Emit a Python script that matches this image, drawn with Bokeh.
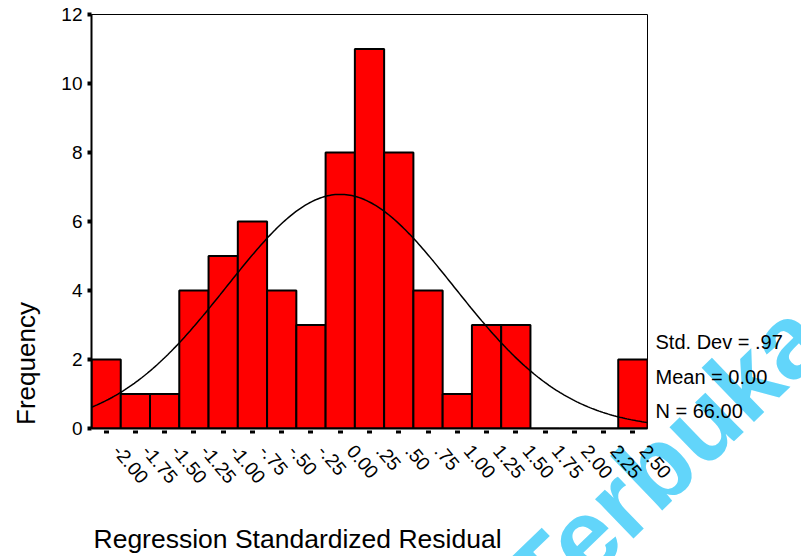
import math
import numpy as np
from bokeh.plotting import figure
from bokeh.models import FixedTicker, LinearAxis, Range1d
from bokeh.core.properties import value
from bokeh.embed import file_html
from bokeh.resources import INLINE

# ---- data ----
bin_centers = [-2.00, -1.75, -1.50, -1.25, -1.00, -0.75, -0.50, -0.25, 0.00, 0.25,
               0.50, 0.75, 1.00, 1.25, 1.50, 1.75, 2.00, 2.25, 2.50]
frequencies = [2, 1, 1, 4, 5, 6, 4, 3, 8, 11, 8, 4, 1, 3, 3, 0, 0, 0, 2]
x_tick_labels = ["-2.00", "-1.75", "-1.50", "-1.25", "-1.00", "-.75", "-.50", "-.25",
                 "0.00", ".25", ".50", ".75", "1.00", "1.25", "1.50", "1.75", "2.00",
                 "2.25", "2.50"]
y_ticks = [0, 2, 4, 6, 8, 10, 12]
bin_width = 0.25
std_dev = 0.97
mean = 0.00
n_obs = 66
stats_lines = ["Std. Dev = .97", "Mean = 0.00", "N = 66.00"]
x_title = "Regression Standardized Residual"
y_title = "Frequency"
watermark = "Terbuka"

FONT = "Liberation Sans"
W, H = 801, 556

# ---------------- background layer: page texts and watermark ----------------
bg = figure(width=W, height=H, output_backend="svg", toolbar_location=None,
            x_range=Range1d(0, W), y_range=Range1d(H, 0), min_border=0)
bg.axis.visible = False
bg.grid.visible = False
bg.outline_line_color = None
bg.background_fill_color = "white"
bg.border_fill_color = "white"

bg.text(x=[521], y=[596], text=[watermark], angle=math.radians(44),
        text_align="left", text_baseline="middle",
        text_font=value(FONT), text_font_size="104px", text_font_style="bold",
        text_color="#62d5fa")
bg.text(x=[25], y=[363], text=[y_title], angle=math.pi / 2,
        text_align="center", text_baseline="middle",
        text_font=value(FONT), text_font_size="26px", text_color="black")
bg.text(x=[93], y=[538], text=[x_title],
        text_align="left", text_baseline="middle",
        text_font=value(FONT), text_font_size="26.5px", text_color="black")
bg.text(x=[655, 655, 655], y=[341, 376, 410], text=stats_lines,
        text_align="left", text_baseline="middle",
        text_font=value(FONT), text_font_size="20px", text_color="black")

# ---------------- main chart (overlaid on the background layer) ----------------
x_lo = bin_centers[0] - bin_width / 2
x_hi = bin_centers[-1] + bin_width / 2

p = figure(width=W, height=H, output_backend="svg", toolbar_location=None,
           x_range=Range1d(x_lo, x_hi), y_range=Range1d(0, 12),
           min_border_left=91, min_border_right=154, min_border_top=14,
           min_border_bottom=128)
p.margin = (-H, 0, 0, 0)
p.grid.visible = False
p.outline_line_color = "black"
p.outline_line_width = 1
p.background_fill_color = None
p.border_fill_color = None

lefts = [c - bin_width / 2 for c in bin_centers]
rights = [c + bin_width / 2 for c in bin_centers]
p.quad(left=lefts, right=rights, bottom=0, top=frequencies,
       fill_color="#ff0000", line_color="black", line_width=2)

# fitted normal curve from the stated mean, std. dev and N
xs = np.linspace(x_lo, x_hi, 300)
ys = n_obs * bin_width / (std_dev * math.sqrt(2 * math.pi)) * np.exp(-0.5 * ((xs - mean) / std_dev) ** 2)
p.line(xs, ys, line_color="black", line_width=1.5)

# y axis
ya = p.yaxis[0]
ya.ticker = FixedTicker(ticks=y_ticks)
ya.axis_line_width = 2
ya.major_tick_in = 0
ya.major_tick_out = 4
ya.major_tick_line_width = 4
ya.minor_tick_line_color = None
ya.major_label_standoff = 5
ya.major_label_text_font = FONT
ya.major_label_text_font_size = "19px"
ya.major_label_text_color = "black"

# x axis: line + dash ticks only
xa = p.xaxis[0]
xa.ticker = FixedTicker(ticks=bin_centers)
xa.axis_line_width = 2
xa.major_tick_in = 0
xa.major_tick_out = 5
xa.major_tick_line_width = 5
xa.major_tick_line_dash = "3 10"
xa.minor_tick_line_color = None
xa.major_label_standoff = 0
xa.major_label_text_font_size = "1px"
xa.major_label_text_alpha = 0

# second x axis carrying the rotated tick labels (slightly offset like the reference)
shift = 0.09
p.extra_x_ranges = {"lab": Range1d(x_lo - shift, x_hi - shift)}
la = LinearAxis(x_range_name="lab", ticker=FixedTicker(ticks=bin_centers))
la.major_label_overrides = {c: l for c, l in zip(bin_centers, x_tick_labels)}
la.major_label_orientation = -0.87
la.axis_line_color = None
la.major_tick_line_color = None
la.minor_tick_line_color = None
la.major_tick_out = 0
la.major_tick_in = 0
la.major_label_standoff = 14
la.major_label_text_font = FONT
la.major_label_text_font_size = "19px"
la.major_label_text_color = "black"
p.add_layout(la, "below")

open("out.html", "w").write(file_html([bg, p], INLINE))
